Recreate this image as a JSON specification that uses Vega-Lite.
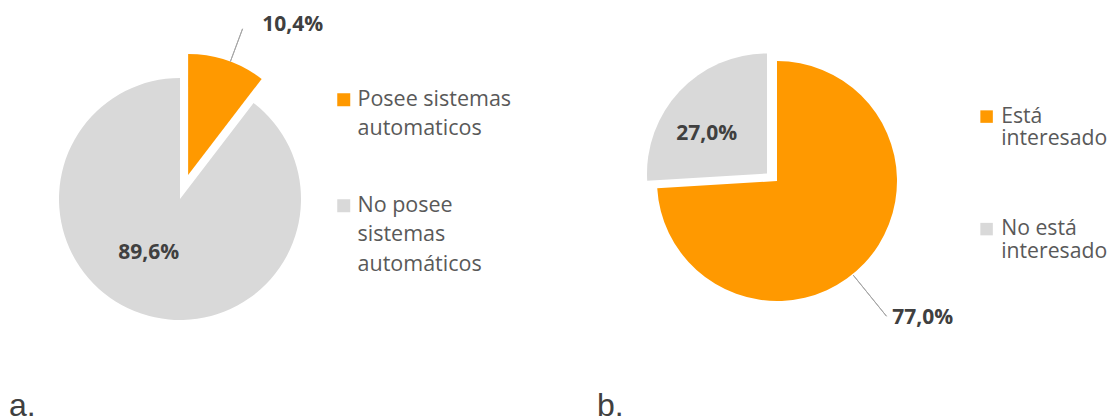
{
  "$schema": "https://vega.github.io/schema/vega-lite/v6.json",
  "padding": 0,
  "background": "white",
  "datasets": {
    "a": [
      {"category": "Posee sistemas automaticos", "value": 10.4, "label": "10,4%"},
      {"category": "No posee sistemas automáticos", "value": 89.6, "label": "89,6%"}
    ],
    "b": [
      {"category": "Está interesado", "value": 77.0, "label": "77,0%"},
      {"category": "No está interesado", "value": 27.0, "label": "27,0%"}
    ]
  },
  "spacing": 116,
  "bounds": "flush",
  "resolve": {"scale": {"color": "independent", "theta": "independent"}, "legend": {"color": "independent"}},
  "hconcat": [
    {
      "width": 360,
      "height": 398,
      "data": {"name": "a"},
      "title": {"text": "a.", "orient": "bottom", "anchor": "start", "frame": "group", "baseline": "alphabetic", "offset": 17.5, "dx": 9, "font": "Liberation Sans", "fontSize": 32, "fontWeight": "normal", "color": "#404040"},
      "encoding": {
        "theta": {"field": "value", "type": "quantitative", "stack": true},
        "order": {"field": "category", "type": "nominal", "sort": "descending"}
      },
      "layer": [
        {
          "mark": {"type": "arc", "radius": 121},
          "encoding": {
            "color": {"field": "category", "type": "nominal",
              "scale": {"domain": ["Posee sistemas automaticos", "No posee sistemas automáticos"], "range": ["#ff9900", "#d9d9d9"]},
              "legend": {"orient": "none", "legendX": 333, "legendY": 89, "title": null, "padding": 0,
                "symbolType": "square", "symbolSize": 169, "symbolStrokeWidth": 0, "symbolOpacity": 1,
                "labelFont": "Open Sans", "labelFontSize": 21.5, "labelColor": "#595959", "labelLimit": 400, "labelOffset": 3,
                "rowPadding": 54,
                "labelExpr": "datum.value == 'Posee sistemas automaticos' ? ['Posee sistemas', 'automaticos'] : ['No posee', 'sistemas', 'automáticos']",
                "encode": {"labels": {"update": {"lineHeight": {"value": 29.5}}}}
              }
            },
            "opacity": {"condition": {"test": "datum.category == 'Posee sistemas automaticos'", "value": 0}, "value": 1}
          }
        },
        {
          "mark": {"type": "arc", "radius": 121, "xOffset": 8.1, "yOffset": -24},
          "encoding": {
            "color": {"field": "category", "type": "nominal",
              "scale": {"domain": ["Posee sistemas automaticos", "No posee sistemas automáticos"], "range": ["#ff9900", "#d9d9d9"]}},
            "opacity": {"condition": {"test": "datum.category == 'Posee sistemas automaticos'", "value": 1}, "value": 0}
          }
        },
        {
          "mark": {"type": "arc", "radius": 156, "radius2": 121, "padAngle": 3, "thetaOffset": 0.03, "filled": false, "color": "#a6a6a6", "strokeWidth": 1, "xOffset": 8.1, "yOffset": -24},
          "encoding": {
            "detail": {"field": "category"},
            "opacity": {"condition": {"test": "datum.category == 'Posee sistemas automaticos'", "value": 1}, "value": 0}
          }
        },
        {
          "mark": {"type": "text", "radius": 178, "align": "left", "baseline": "alphabetic", "dx": 25, "dy": 0.5, "font": "Open Sans", "fontSize": 21, "fontWeight": "bold", "color": "#404040"},
          "encoding": {
            "detail": {"field": "category"},
            "text": {"condition": {"test": "datum.category == 'Posee sistemas automaticos'", "field": "label"}, "value": ""}
          }
        },
        {
          "mark": {"type": "text", "radius": 57, "align": "center", "baseline": "middle", "dx": -13, "dy": 0.5, "font": "Open Sans", "fontSize": 21, "fontWeight": "bold", "color": "#404040"},
          "encoding": {
            "detail": {"field": "category"},
            "text": {"condition": {"test": "datum.category == 'No posee sistemas automáticos'", "field": "label"}, "value": ""}
          }
        }
      ]
    },
    {
      "width": 602,
      "height": 362,
      "data": {"name": "b"},
      "title": {"text": "b.", "orient": "bottom", "anchor": "start", "frame": "group", "baseline": "alphabetic", "offset": 53.5, "dx": 121, "font": "Liberation Sans", "fontSize": 32, "fontWeight": "normal", "color": "#404040"},
      "encoding": {
        "theta": {"field": "value", "type": "quantitative", "stack": true},
        "order": {"field": "category", "type": "nominal", "sort": "ascending"}
      },
      "layer": [
        {
          "mark": {"type": "arc", "radius": 120},
          "encoding": {
            "color": {"field": "category", "type": "nominal",
              "scale": {"domain": ["Está interesado", "No está interesado"], "range": ["#ff9900", "#d9d9d9"]},
              "legend": {"orient": "none", "legendX": 500, "legendY": 106, "title": null, "padding": 0,
                "symbolType": "square", "symbolSize": 156, "symbolStrokeWidth": 0, "symbolOpacity": 1,
                "labelFont": "Open Sans", "labelFontSize": 21.2, "labelColor": "#595959", "labelLimit": 400, "labelOffset": 4,
                "rowPadding": 67.5,
                "labelExpr": "datum.value == 'Está interesado' ? ['Está', 'interesado'] : ['No está', 'interesado']",
                "encode": {"labels": {"update": {"lineHeight": {"value": 22.5}}}}
              }
            },
            "opacity": {"condition": {"test": "datum.category == 'No está interesado'", "value": 0}, "value": 1}
          }
        },
        {
          "mark": {"type": "arc", "radius": 120, "xOffset": -10, "yOffset": -7.5},
          "encoding": {
            "color": {"field": "category", "type": "nominal",
              "scale": {"domain": ["Está interesado", "No está interesado"], "range": ["#ff9900", "#d9d9d9"]}},
            "opacity": {"condition": {"test": "datum.category == 'No está interesado'", "value": 1}, "value": 0}
          }
        },
        {
          "mark": {"type": "arc", "radius": 174, "radius2": 121, "padAngle": 3, "thetaOffset": 3.2765, "filled": false, "color": "#a6a6a6", "strokeWidth": 1},
          "encoding": {
            "detail": {"field": "category"},
            "opacity": {"condition": {"test": "datum.category == 'No está interesado'", "value": 1}, "value": 0}
          }
        },
        {
          "mark": {"type": "text", "radius": 80, "align": "center", "baseline": "middle", "dx": -12, "dy": 8, "font": "Open Sans", "fontSize": 21, "fontWeight": "bold", "color": "#404040"},
          "encoding": {
            "detail": {"field": "category"},
            "text": {"condition": {"test": "datum.category == 'No está interesado'", "field": "label"}, "value": ""}
          }
        },
        {
          "mark": {"type": "text", "radius": 190, "align": "left", "baseline": "alphabetic", "dx": -23, "dy": 13, "font": "Open Sans", "fontSize": 21, "fontWeight": "bold", "color": "#404040"},
          "encoding": {
            "detail": {"field": "category"},
            "text": {"condition": {"test": "datum.category == 'Está interesado'", "field": "label"}, "value": ""}
          }
        }
      ]
    }
  ],
  "config": {"view": {"stroke": null}, "font": "Open Sans"}
}
